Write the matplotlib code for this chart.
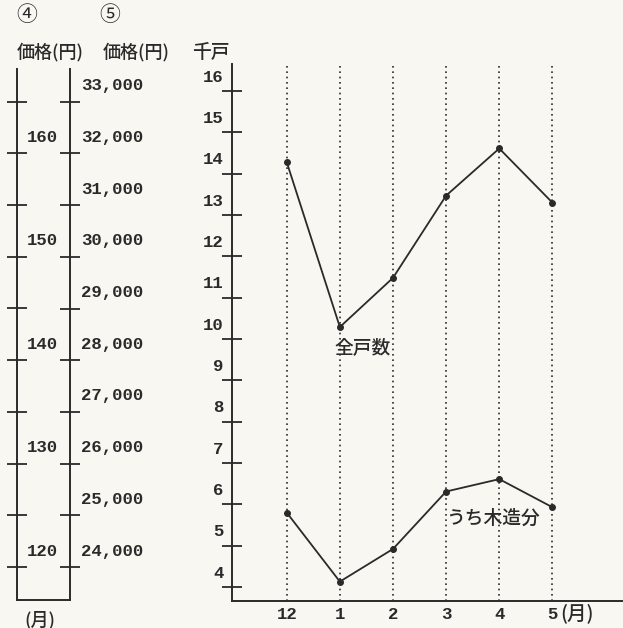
import matplotlib.pyplot as plt

plt.rcParams['font.family'] = ['Noto Sans CJK JP', 'DejaVu Sans']

# data
months = ['12', '1', '2', '3', '4', '5']
total_units = [14.28, 10.29, 11.48, 13.47, 14.61, 13.30]   # 全戸数 (千戸)
wooden_units = [5.80, 4.13, 4.92, 6.31, 6.61, 5.93]        # うち木造分 (千戸)
unit_ticks = list(range(16, 3, -1))
price4_ticks = list(range(165, 119, -5))
price4_labels = [160, 150, 140, 130, 120]
price5_ticks = list(range(33000, 23999, -1000))

W, H = 623, 628
bg = '#f8f7f2'
ink = '#2a2a2a'
num_font = ['Liberation Mono', 'Noto Sans CJK JP']
num_size = 12.5


def frac(l, t, r, b):
    # pixel box -> figure fraction [left, bottom, width, height]
    return [l / W, 1 - b / H, (r - l) / W, (b - t) / H]


fig = plt.figure(figsize=(W / 100, H / 100), dpi=100, facecolor=bg)

# main chart (千戸)
ax = fig.add_axes(frac(232, 64, 622, 601))
ax.set_facecolor('none')
x = list(range(len(months)))
ax.set_xlim(-1.03, 6.31)
ax.set_ylim(3.661, 16.654)

for i in x:
    ax.axvline(i, ymin=0, ymax=0.998, color=ink, lw=1.2, ls=(0, (1, 2.2)), zorder=1)

ax.plot(x, total_units, color=ink, lw=1.3, marker='o', ms=4, zorder=3)
ax.plot(x, wooden_units, color=ink, lw=1.3, marker='o', ms=4, zorder=3)

for side in ['top', 'right']:
    ax.spines[side].set_visible(False)
for side in ['left', 'bottom']:
    ax.spines[side].set_color(ink)
    ax.spines[side].set_linewidth(1.4)

ax.set_yticks(unit_ticks)
ax.tick_params(axis='y', direction='inout', length=14.4, width=1.3, color=ink, labelleft=False)
for v in unit_ticks:
    ax.annotate(str(v), xy=(0, v), xycoords=('axes fraction', 'data'), xytext=(-6, 10),
                textcoords='offset points', ha='right', va='center',
                family=num_font, fontsize=num_size, weight='bold', color=ink)

ax.set_xticks(x, months)
ax.tick_params(axis='x', length=0, pad=4, labelsize=num_size, labelcolor=ink)
for lab in ax.get_xticklabels():
    lab.set_family(num_font)
    lab.set_weight('bold')
ax.annotate('(月)', xy=(x[-1], 0), xycoords=('data', 'axes fraction'), xytext=(5.5, -9),
            textcoords='offset points', ha='left', va='center', fontsize=14,
            weight='medium', color=ink)

ax.annotate('全戸数', xy=(x[1], total_units[1]), xytext=(16.6, -15), textcoords='offset points',
            ha='center', va='center', fontsize=13.5, weight='medium', color=ink)
ax.annotate('うち木造分', xy=(x[4], wooden_units[4]), xytext=(-4.3, -28), textcoords='offset points',
            ha='center', va='center', fontsize=13.5, weight='medium', color=ink)

# left price scales ④ and ⑤
axL = fig.add_axes(frac(17, 69, 70, 600))
axL.set_facecolor('none')
axL.set_ylim(116.81, 168.16)
axL.set_xticks([])
axL.spines['top'].set_visible(False)
axL.spines['right'].set_visible(False)
for side in ['left', 'bottom']:
    axL.spines[side].set_color(ink)
    axL.spines[side].set_linewidth(1.4)
axL.set_yticks(price4_ticks)
axL.tick_params(axis='y', direction='inout', length=14.4, width=1.3, color=ink, labelleft=False)
for v in price4_labels:
    axL.annotate(str(v), xy=(0, v), xycoords=('axes fraction', 'data'), xytext=(29.5, 11.5),
                 textcoords='offset points', ha='right', va='center',
                 family=num_font, fontsize=num_size, weight='bold', color=ink)

axR = axL.twinx()
axR.set_ylim(23361.7, 33632.5)
for side in ['top', 'left', 'bottom']:
    axR.spines[side].set_visible(False)
axR.spines['right'].set_color(ink)
axR.spines['right'].set_linewidth(1.4)
axR.set_yticks(price5_ticks)
axR.tick_params(axis='y', direction='inout', length=14.4, width=1.3, color=ink, labelright=False)
for v in price5_ticks:
    axR.annotate(f'{v:,}', xy=(1, v), xycoords=('axes fraction', 'data'), xytext=(8.2, 11.5),
                 textcoords='offset points', ha='left', va='center',
                 family=num_font, fontsize=num_size, weight='bold', color=ink)

# headers
fig.text(27 / W, 1 - 15 / H, '④', ha='center', va='center', fontsize=15, color=ink)
fig.text(110 / W, 1 - 15 / H, '⑤', ha='center', va='center', fontsize=15, color=ink)
fig.text(50 / W, 1 - 52 / H, '価格(円)', ha='center', va='center', fontsize=13,
         weight='medium', color=ink)
fig.text(136 / W, 1 - 52 / H, '価格(円)', ha='center', va='center', fontsize=13,
         weight='medium', color=ink)
fig.text(211 / W, 1 - 52 / H, '千戸', ha='center', va='center', fontsize=13.5,
         weight='medium', color=ink)
fig.text(40 / W, 1 - 620 / H, '(月)', ha='center', va='center', fontsize=13,
         weight='medium', color=ink)

fig.savefig('out.png', dpi=100, facecolor=bg)
